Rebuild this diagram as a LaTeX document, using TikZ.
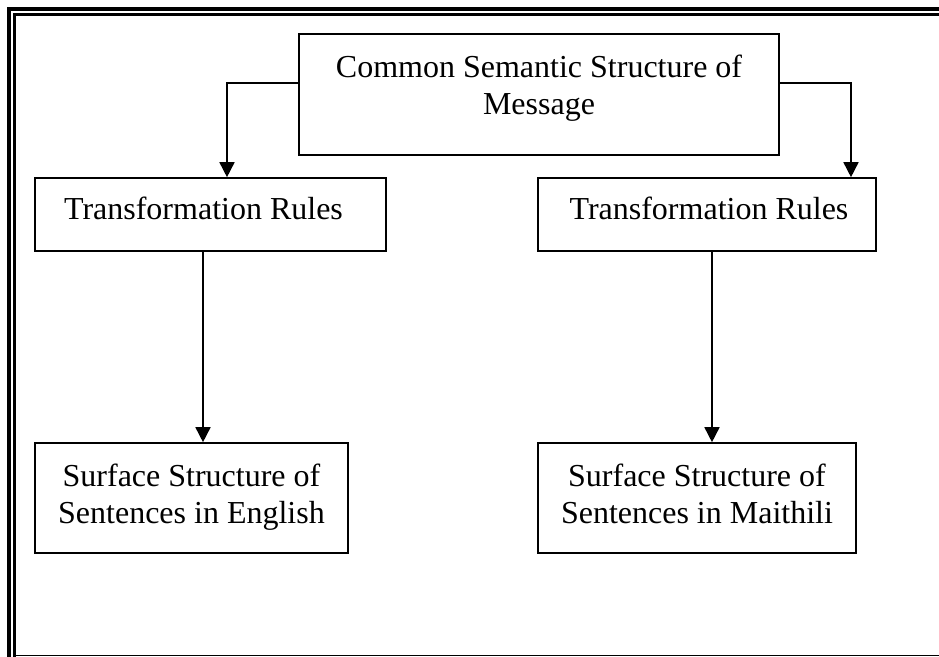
\documentclass[tikz,border=0pt]{standalone}
\usepackage{fontspec}
\setmainfont{Liberation Serif}
\usetikzlibrary{positioning}
\usetikzlibrary{arrows.meta}
\begin{document}
\begin{tikzpicture}[
		x=0.5pt, y=-0.5pt,
		box/.style={
			draw,
			rectangle,
			line width=0.8pt,
			inner sep=0
		},
		txt/.style={
			font=\fontsize{16}{18.3}\selectfont,
			inner sep=0,
			align=center
		},
		arr/.style={
			-{Triangle[length=7.5pt, width=7.5pt]},
			line width=0.8pt
		},
		frame/.style={
			line width=1.6pt
		}
	]
		\clip (0,0) rectangle (939,657);
		
		\draw[frame] (9,670) -- (9,9) -- (950,9);
		\draw[frame] (14.5,670) -- (14.5,14.5) -- (950,14.5);
		\draw[line width=0.9pt] (14.5,655.5) -- (950,655.5);
		
		\node[box, minimum width=240pt, minimum height=60.5pt] (sem) at (539,94.5) {};
		\node[box, minimum width=175.5pt, minimum height=36.5pt] (trL) at (210.5,214.5) {};
		\node[box, minimum width=169pt, minimum height=36.5pt] (trR) at (707,214.5) {};
		\node[box, minimum width=156.5pt, minimum height=55pt] (surfL) at (191.5,498) {};
		\node[box, minimum width=159pt, minimum height=55pt] (surfR) at (697,498) {};
		
		\node[txt, anchor=north] (semtxt) at (539,54.5) {Common Semantic Structure of\\Message};
		\node[txt, anchor=base] (trLtxt) at (203.5,220) {Transformation Rules};
		\node[txt, anchor=base] (trRtxt) at (709,220) {Transformation Rules};
		\node[txt, anchor=north] (surfLtxt) at (191.5,463.5) {Surface Structure of\\Sentences in English};
		\node[txt, anchor=north] (surfRtxt) at (697,463.5) {Surface Structure of\\Sentences in Maithili};
		
		\coordinate (forkL) at (227,83);
		\coordinate (forkR) at (851,83);
		\coordinate (dropL) at (203,0);
		\coordinate (dropR) at (712,0);
		\draw[arr] (sem.west |- forkL) -| (trL.north -| forkL);
		\draw[arr] (sem.east |- forkR) -| (trR.north -| forkR);
		\draw[arr] (trL.south -| dropL) -- (surfL.north -| dropL);
		\draw[arr] (trR.south -| dropR) -- (surfR.north -| dropR);
	\end{tikzpicture}
\end{document}
